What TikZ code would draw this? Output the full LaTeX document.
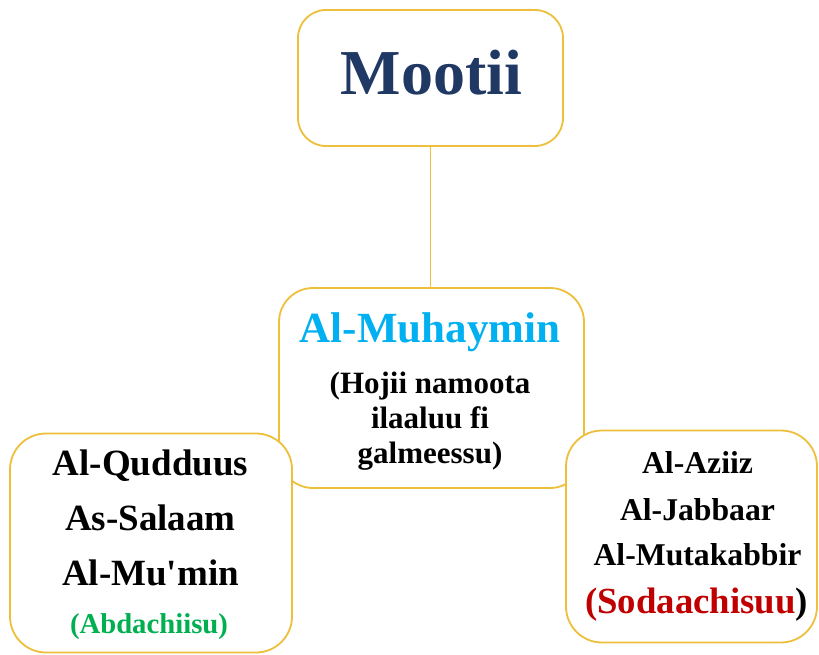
\documentclass[tikz,border=0pt]{standalone}
\usepackage{fontspec}
\setmainfont{Liberation Serif}[Ligatures=TeXOff]
\definecolor{gold}{HTML}{EDBF3A}
\definecolor{navy}{HTML}{1F3864}
\definecolor{skyc}{HTML}{00B0F0}
\definecolor{grn}{HTML}{00B050}
\definecolor{dred}{HTML}{C00000}
\tikzset{
  box/.style={draw=gold, line width=1.8pt, fill=white, rounded corners=#1, inner sep=0pt},
  box/.default=30pt,
  txt/.style={anchor=base, inner sep=0pt, font=\bfseries\fontsize{#1}{#1}\selectfont},
}
\begin{document}
\begin{tikzpicture}[x=1pt,y=-1pt]
\useasboundingbox (0,0) rectangle (819,655);
% boxes
\node[box=28pt, minimum width=265pt, minimum height=136pt] (top) at (430.5,78) {};
\node[box=34pt, minimum width=305pt, minimum height=200pt] (mid) at (431.5,388) {};
\draw[gold, line width=1.8pt] (top.south) -- (top.south |- mid.north);
\node[box=36pt, minimum width=282pt, minimum height=219pt] (left) at (151,543) {};
\node[box=36pt, minimum width=251pt, minimum height=212pt] (right) at (691.5,536.5) {};
% texts
\node[txt=64, text=navy] (t1) at (431.5,95) {Mootii};
\node[txt=43, text=skyc] (m1) at (430,342) {Al-Muhaymin};
\node[txt=31] (m2) at (430,393) {(Hojii namoota};
\node[txt=31] (m3) at (430,428) {ilaaluu fi};
\node[txt=31] (m4) at (430,463) {galmeessu)};
\node[txt=37] (l1) at (150.5,475) {Al-Qudduus};
\node[txt=37] (l2) at (150.5,530) {As-Salaam};
\node[txt=37] (l3) at (150.5,585) {Al-Mu'min};
\node[txt=28.7, text=grn] (l4) at (149,633) {(Abdachiisu)};
\node[txt=31.7] (r1) at (697.5,473) {Al-Aziiz};
\node[txt=31.7] (r2) at (697.5,520) {Al-Jabbaar};
\node[txt=31.7] (r3) at (697.5,565) {Al-Mutakabbir};
\node[txt=36.8] (r4) at (696.5,613) {\textcolor{dred}{(Sodaachisuu})};
\end{tikzpicture}
\end{document}
